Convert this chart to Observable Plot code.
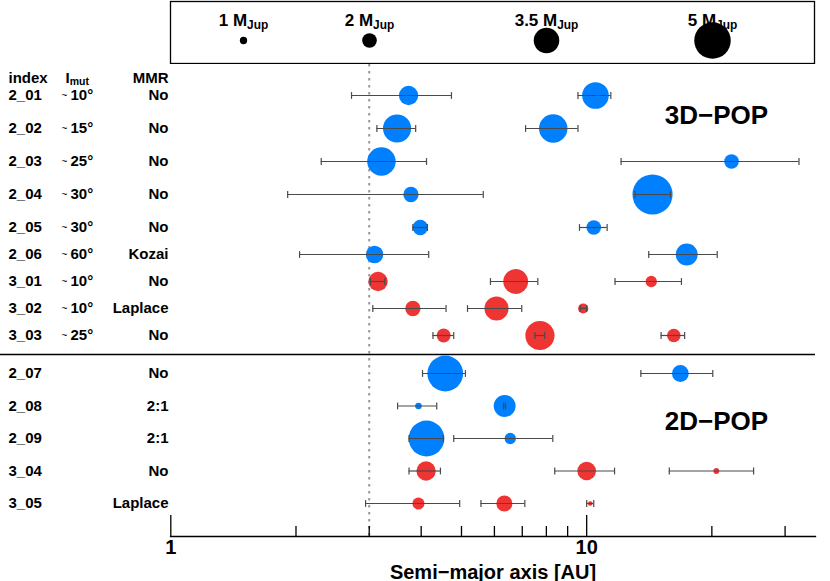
<!DOCTYPE html>
<html><head><meta charset="utf-8">
<script src="https://cdn.jsdelivr.net/npm/d3@7"></script>
<script src="https://cdn.jsdelivr.net/npm/@observablehq/plot@0.6"></script>
<style>
html,body{margin:0;padding:0;background:#fff;}
#chart svg{display:block;}
</style></head><body><div id="chart"></div>
<script>
// ---- rows (simulations) ----
const rowIds   = ["2_01","2_02","2_03","2_04","2_05","2_06","3_01","3_02","3_03","2_07","2_08","2_09","3_04","3_05"];
const rowGroup = ["3D","3D","3D","3D","3D","3D","3D","3D","3D","2D","2D","2D","2D","2D"];
const rowImut  = [10,15,25,30,30,60,10,10,25,null,null,null,null,null];
const rowMMR   = ["No","No","No","No","No","Kozai","No","Laplace","No","No","2:1","2:1","No","Laplace"];

// ---- planets ----
const planetRow  = ["2_01","2_01","2_02","2_02","2_03","2_03","2_04","2_04","2_05","2_05","2_06","2_06",
                    "3_01","3_01","3_01","3_02","3_02","3_02","3_03","3_03","3_03",
                    "2_07","2_07","2_08","2_08","2_09","2_09","3_04","3_04","3_04","3_05","3_05","3_05"];
const planetA    = [3.73,10.5, 3.50,8.31, 3.21,22.3, 3.78,14.4, 3.98,10.4, 3.09,17.4,
                    3.15,6.75,14.3, 3.82,6.07,9.81, 4.53,7.72,16.2,
                    4.57,16.8, 3.94,6.35, 4.12,6.55, 4.11,10.0,20.5, 3.94,6.34,10.2];
const planetALo  = [2.72,9.53, 3.13,7.13, 2.30,12.1, 1.91,13.06, 3.82,9.61, 2.04,14.1,
                    3.02,5.87,11.7, 3.06,5.17,9.65, 4.27,7.51,15.1,
                    4.03,13.5, 3.51,6.31, 3.74,4.79, 3.74,8.38,15.8, 2.94,5.57,10.0];
const planetAHi  = [4.73,11.43, 3.88,9.53, 4.12,32.4, 5.64,15.9, 4.14,11.2, 4.17,20.6,
                    3.27,7.63,16.9, 4.59,6.98,10.0, 4.79,7.93,17.2,
                    5.11,20.1, 4.36,6.38, 4.52,8.29, 4.45,11.67,25.2, 4.95,7.10,10.4];
const planetMass = [2.65,3.65, 3.85,3.9, 3.9,2.0, 2.1,5.5, 2.1,2.0, 2.4,3.0,
                    2.65,3.4,1.55, 2.1,3.3,1.4, 1.9,4.0,1.85,
                    4.9,2.3, 0.9,3.0, 4.9,1.55, 2.65,2.55,0.8, 1.65,2.2,0.65];

// ---- legend / axis ----
const legendMass   = [1, 2, 3.5, 5];
const xTicksMajor  = [1, 10];
const xTicksMinor  = [2, 3, 4, 5, 6, 7, 8, 9, 20, 30];
const refA         = [3];
const groupLabels  = ["3D\u2212POP", "2D\u2212POP"];

// ---- tables built from the arrays ----
const rows = rowIds.map((id, i) => ({id, slot: i, group: rowGroup[i], imut: rowImut[i], mmr: rowMMR[i]}));
const planets = planetRow.map((row, i) => ({
  row, slot: rowIds.indexOf(row), kind: row[0],
  a: planetA[i], lo: planetALo[i], hi: planetAHi[i], mass: planetMass[i]
}));
const last3D = d3.max(rows.filter(d => d.group === "3D"), d => d.slot);
const first2D = d3.min(rows.filter(d => d.group === "2D"), d => d.slot);
const labelRows = [
  {text: groupLabels[0], slot: 0.62},
  {text: groupLabels[1], slot: first2D + 1.47}
];

const FONT = "'Liberation Sans', Arial, Helvetica, sans-serif";
const BLUE = "#0080ff", RED = "#ef3434", BAR = "#4a4a4a";
const rScale = {type: "linear", domain: [0, 5], range: [0, 18.25]};

// vertical cap symbol for error bars
const capSymbol = {draw(ctx, size) { const h = Math.sqrt(size / Math.PI); ctx.moveTo(0, -h); ctx.lineTo(0, h); }};

// ---- legend box ----
const legend = Plot.plot({
  width: 830, height: 64,
  marginLeft: 170, marginRight: 16, marginTop: 1, marginBottom: 1,
  style: {fontFamily: FONT, fontWeight: "bold", background: "white"},
  x: {type: "linear", domain: legendMass, range: [243, 369, 546, 712], axis: null},
  r: rScale,
  marks: [
    Plot.frame({stroke: "black", strokeWidth: 1.3}),
    Plot.dot(legendMass, {x: d => d, r: d => d, fill: "black", frameAnchor: "top", dy: 39}),
    Plot.text(legendMass, {x: d => d, text: d => `${d} M{Jup}`, frameAnchor: "top", dy: 12, fontSize: 17, fontWeight: "bold"})
  ]
});

// ---- main chart ----
const H = 517, MB = 45, frameH = H - MB;
const main = Plot.plot({
  width: 830, height: H,
  marginLeft: 170, marginRight: 15, marginTop: 0, marginBottom: MB,
  style: {fontFamily: FONT, fontWeight: "bold", background: "white"},
  x: {type: "log", domain: [1, 35.5], range: [170.3, 815]},
  y: {type: "linear", domain: [0, 4, 8, 9, 13], range: [31, 163, 271, 309, 439], axis: null},
  r: rScale,
  color: {domain: ["2", "3"], range: [BLUE, RED]},
  marks: [
    // reference dotted line
    Plot.ruleX(refA, {x: d => d, stroke: "#999", strokeWidth: 2, strokeDasharray: "2.5,4.5"}),
    // separator between 3D and 2D populations
    Plot.ruleY([(last3D + first2D) / 2], {y: d => d, insetLeft: -170, stroke: "black", strokeWidth: 1.5}),
    // planets
    Plot.dot(planets, {x: "a", y: "slot", r: "mass", fill: "kind"}),
    // error bars
    Plot.ruleY(planets, {y: "slot", x1: "lo", x2: "hi", stroke: BAR, strokeWidth: 1.2}),
    Plot.dot(planets, {x: "lo", y: "slot", r: 3.4, symbol: capSymbol, stroke: BAR, strokeWidth: 1.2, fill: "none"}),
    Plot.dot(planets, {x: "hi", y: "slot", r: 3.4, symbol: capSymbol, stroke: BAR, strokeWidth: 1.2, fill: "none"}),
    // axis: line, inward ticks, labels
    Plot.frame({anchor: "bottom", stroke: "black", strokeWidth: 1.3}),
    Plot.ruleX(xTicksMajor, {x: d => d, insetTop: frameH - 21, stroke: "black", strokeWidth: 1.3}),
    Plot.ruleX(xTicksMinor, {x: d => d, insetTop: frameH - 10, stroke: "black", strokeWidth: 1.3}),
    Plot.axisX({ticks: xTicksMajor, tickSize: 0, tickPadding: 3, tickFormat: d => String(d),
                fontSize: 20, fontWeight: "bold", label: "Semi\u2212major axis [AU]",
                labelAnchor: "center", labelOffset: 42, labelArrow: "none"}),
    // group labels
    Plot.text(labelRows, {y: "slot", text: "text", frameAnchor: "right", dx: -99, textAnchor: "middle", fontSize: 26, fontWeight: "bold"}),
    // left table: header
    Plot.text(["index"], {frameAnchor: "top-left", dx: -162, dy: 7.5, textAnchor: "start", fontSize: 15, fontWeight: "bold"}),
    Plot.text(["I{mut}"], {frameAnchor: "top-left", dx: -105, dy: 7.5, textAnchor: "start", fontSize: 15, fontWeight: "bold"}),
    Plot.text(["MMR"], {frameAnchor: "top-left", dx: -2, dy: 7.5, textAnchor: "end", fontSize: 15, fontWeight: "bold"}),
    // left table: rows
    Plot.text(rows, {y: "slot", text: "id", frameAnchor: "left", dx: -162, textAnchor: "start", fontSize: 15, fontWeight: "bold"}),
    Plot.text(rows.filter(d => d.imut != null), {y: "slot", text: () => "~", frameAnchor: "left", dx: -109, textAnchor: "start", fontSize: 10, fontWeight: "normal"}),
    Plot.text(rows.filter(d => d.imut != null), {y: "slot", text: d => `${d.imut}°`, frameAnchor: "left", dx: -100, textAnchor: "start", fontSize: 15, fontWeight: "bold"}),
    Plot.text(rows, {y: "slot", text: "mmr", frameAnchor: "left", dx: -2, textAnchor: "end", fontSize: 15, fontWeight: "bold"})
  ]
});

const chart = document.getElementById("chart");
chart.appendChild(legend);
chart.appendChild(main);

// subscripts: "X{sub}" -> X with subscript tspan
for (const t of chart.querySelectorAll("text")) {
  const m = /^(.*)\{(.+)\}$/.exec(t.textContent);
  if (!m) continue;
  t.textContent = m[1];
  const ts = document.createElementNS("http://www.w3.org/2000/svg", "tspan");
  ts.setAttribute("dy", "0.25em");
  ts.setAttribute("font-size", "0.7em");
  ts.textContent = m[2];
  t.appendChild(ts);
}
</script>
</body></html>
